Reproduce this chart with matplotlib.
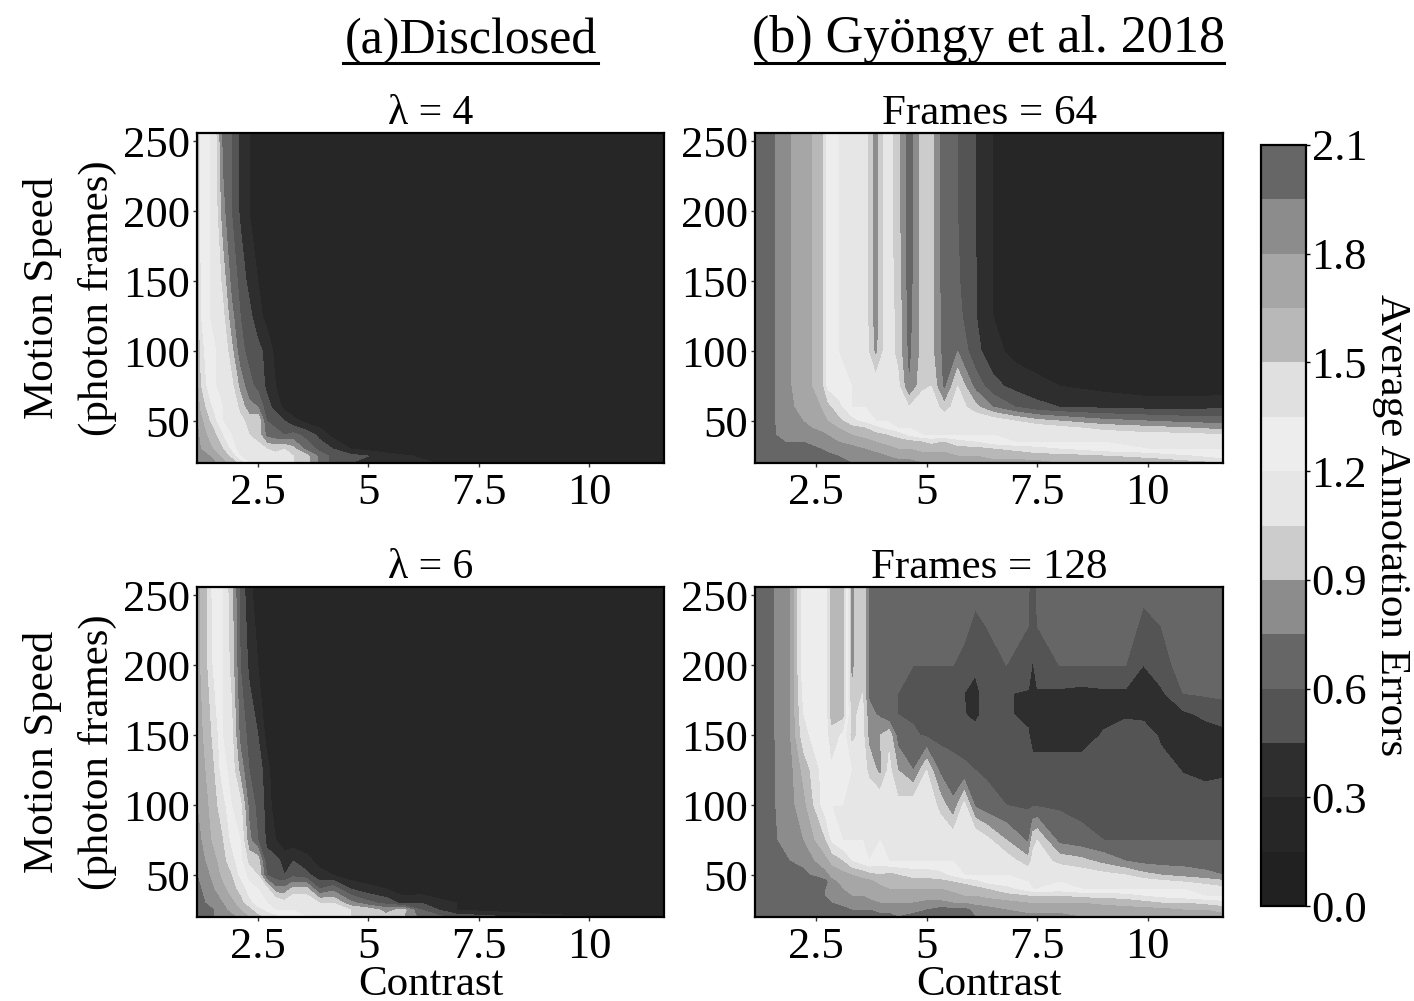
import numpy as np
import matplotlib
matplotlib.use("Agg")
import matplotlib.pyplot as plt
from matplotlib.colors import ListedColormap, BoundaryNorm
from matplotlib.lines import Line2D

plt.rcParams['font.family'] = ['Liberation Serif', 'DejaVu Serif']

W, H = 1414, 1001
levels = [0, .15, .3, .45, .6, .75, .9, 1.05, 1.2, 1.35, 1.5, 1.65, 1.8, 1.95, 2.1]
band_grays = [.13, .15, .18, .33, .40, .55, .80, .90, .93, .88, .72, .65, .55, .40]
xticks = [2.5, 5, 7.5, 10]
xticklabels = ['2.5', '5', '7.5', '10']
yticks = [50, 100, 150, 200, 250]
cticks = [0, .3, .6, .9, 1.2, 1.5, 1.8, 2.1]

speed_a = [20, 25, 30, 40, 50, 60, 75, 100, 125, 150, 200, 256]

contrast_a4 = [1.12,1.2,1.4,1.55,1.7,1.9,2.1,2.3,2.5,2.7,2.9,3.1,3.3,3.6,3.9,4.2,4.6,5,6,7.5,11.7]
errors_a4 = [
 [1.95,1.9,1.85,1.8,1.7,1.6,1.45,1.2,1.1,1.1,1.1,1.1,1.05,.95,.7,.55,.45,.45,.35,.2,.2],
 [1.9,1.85,1.8,1.7,1.6,1.45,1.2,1.15,1.15,1.1,1.1,1.15,1.05,.95,.7,.55,.5,.45,.3,.2,.2],
 [1.9,1.8,1.7,1.6,1.5,1.3,1.1,1.1,1.1,1.05,1.0,1.05,.95,.7,.55,.45,.3,.25,.2,.2,.2],
 [1.85,1.75,1.6,1.5,1.35,1.2,1.15,1.05,1.0,.7,.65,.6,.65,.55,.4,.25,.2,.2,.2,.2,.2],
 [1.8,1.7,1.5,1.35,1.2,1.2,1.1,1.0,1.05,.6,.55,.45,.35,.25,.2,.2,.2,.2,.2,.2,.2],
 [1.75,1.6,1.4,1.25,1.2,1.2,1.0,.8,.75,.5,.4,.25,.2,.2,.2,.2,.2,.2,.2,.2,.2],
 [1.7,1.5,1.25,1.2,1.2,1.1,.85,.65,.55,.42,.3,.2,.2,.2,.2,.2,.2,.2,.2,.2,.2],
 [1.65,1.4,1.25,1.2,1.2,.95,.65,.55,.5,.4,.25,.2,.2,.2,.2,.2,.2,.2,.2,.2,.2],
 [1.65,1.35,1.2,1.2,1.1,.8,.6,.5,.35,.25,.2,.2,.2,.2,.2,.2,.2,.2,.2,.2,.2],
 [1.65,1.3,1.2,1.2,1.0,.7,.55,.4,.3,.2,.2,.2,.2,.2,.2,.2,.2,.2,.2,.2,.2],
 [1.6,1.3,1.2,1.1,.8,.6,.42,.3,.2,.2,.2,.2,.2,.2,.2,.2,.2,.2,.2,.2,.2],
 [1.6,1.25,1.2,1.05,.7,.6,.4,.3,.2,.2,.2,.2,.2,.2,.2,.2,.2,.2,.2,.2,.2],
]

contrast_a6 = [1.12,1.3,1.5,1.7,1.9,2.1,2.3,2.5,2.7,2.9,3.1,3.3,3.6,3.9,4.2,4.6,5,5.4,5.8,6.2,7,11.7]
errors_a6 = [
 [2.05,2.0,1.95,1.9,1.85,1.75,1.65,1.55,1.45,1.4,1.3,1.3,1.2,1.2,1.15,1.05,1.0,.95,.9,.7,.55,.2],
 [2.05,2.0,1.95,1.85,1.75,1.65,1.55,1.4,1.3,1.2,1.2,1.2,1.2,1.15,1.1,1.05,1.0,.85,.95,.6,.3,.2],
 [2.0,1.95,1.85,1.8,1.7,1.55,1.4,1.25,1.2,1.2,1.1,1.2,1.2,1.05,1.05,.8,.65,.55,.4,.45,.3,.2],
 [2.0,1.9,1.8,1.7,1.55,1.45,1.25,1.2,1.1,.8,.8,.95,.95,.6,.7,.45,.35,.3,.2,.2,.2,.2],
 [1.95,1.85,1.75,1.6,1.5,1.3,1.15,1.05,.6,.5,.45,.55,.5,.35,.3,.2,.2,.2,.2,.2,.2,.2],
 [1.9,1.8,1.7,1.55,1.4,1.25,1.0,1.0,.5,.5,.4,.45,.35,.25,.2,.2,.2,.2,.2,.2,.2,.2],
 [1.85,1.75,1.6,1.5,1.3,1.2,.8,.6,.42,.3,.2,.2,.2,.2,.2,.2,.2,.2,.2,.2,.2,.2],
 [1.8,1.7,1.55,1.4,1.2,1.1,.7,.55,.4,.2,.2,.2,.2,.2,.2,.2,.2,.2,.2,.2,.2,.2],
 [1.75,1.65,1.5,1.25,1.15,.85,.6,.55,.35,.2,.2,.2,.2,.2,.2,.2,.2,.2,.2,.2,.2,.2],
 [1.75,1.6,1.45,1.2,1.1,.7,.55,.45,.25,.2,.2,.2,.2,.2,.2,.2,.2,.2,.2,.2,.2,.2],
 [1.7,1.55,1.3,1.2,1.0,.6,.42,.3,.2,.2,.2,.2,.2,.2,.2,.2,.2,.2,.2,.2,.2,.2],
 [1.7,1.55,1.25,1.2,.95,.55,.35,.2,.2,.2,.2,.2,.2,.2,.2,.2,.2,.2,.2,.2,.2,.2],
]

speed_b64 = [20, 25, 30, 35, 40, 45, 50, 60, 75, 100, 125, 150, 200, 256]
contrast_b64 = [1.12,1.5,1.8,2.2,2.6,2.75,3.0,3.3,3.6,3.85,4.1,4.35,4.6,4.9,5.1,5.4,5.7,6.1,6.5,7,7.5,8,9,10,11,11.7]
errors_b64 = [
 [2.05,2.05,2.08,2.08,2.05,2.05,2.0,1.95,1.95,1.9,1.9,1.85,1.85,1.8,1.8,1.8,1.75,1.75,1.7,1.7,1.7,1.65,1.65,1.6,1.55,1.5],
 [2.05,2.05,2.05,2.05,2.0,2.0,1.95,1.9,1.85,1.85,1.8,1.75,1.75,1.7,1.7,1.7,1.65,1.65,1.6,1.6,1.55,1.55,1.5,1.45,1.35,1.25],
 [2.05,2.0,2.0,2.0,1.95,1.9,1.85,1.85,1.8,1.75,1.7,1.65,1.65,1.6,1.6,1.6,1.55,1.55,1.5,1.45,1.4,1.35,1.25,1.2,1.2,1.2],
 [2.05,2.0,1.95,1.95,1.9,1.85,1.8,1.75,1.7,1.65,1.6,1.55,1.55,1.5,1.45,1.5,1.4,1.35,1.25,1.2,1.2,1.2,1.2,1.2,1.2,1.2],
 [2.0,1.97,1.9,1.9,1.85,1.8,1.7,1.65,1.6,1.55,1.5,1.45,1.3,1.2,1.2,1.2,1.2,1.2,1.2,1.2,1.2,1.2,1.15,1.1,1.1,1.05],
 [2.0,1.97,1.9,1.85,1.75,1.7,1.65,1.55,1.5,1.4,1.3,1.2,1.2,1.2,1.2,1.2,1.2,1.2,1.2,1.2,1.15,1.1,1.0,.95,.9,.85],
 [2.0,1.97,1.85,1.8,1.7,1.65,1.55,1.4,1.3,1.2,1.2,1.2,1.2,1.2,1.2,1.2,1.2,1.2,1.15,1.05,.95,.9,.8,.75,.7,.7],
 [2.0,1.97,1.85,1.75,1.65,1.55,1.4,1.2,1.2,1.2,1.2,1.2,1.05,1.2,1.2,.95,1.15,.95,.75,.6,.5,.45,.42,.4,.4,.42],
 [2.0,1.97,1.85,1.7,1.6,1.3,1.25,1.2,1.2,1.15,1.2,1.1,.75,1.0,1.05,.7,1.05,.7,.5,.4,.35,.3,.25,.2,.2,.2],
 [2.0,1.97,1.85,1.7,1.6,1.3,1.2,1.2,1.15,.85,1.15,1.0,.7,.95,.95,.68,.75,.5,.35,.25,.2,.2,.2,.2,.2,.2],
 [2.0,1.97,1.85,1.7,1.6,1.3,1.2,1.2,1.15,.8,1.15,1.0,.68,.95,.95,.66,.65,.46,.3,.2,.2,.2,.2,.2,.2,.2],
 [2.0,1.97,1.85,1.7,1.6,1.3,1.2,1.2,1.15,.8,1.15,.98,.66,.95,.95,.65,.62,.46,.3,.22,.2,.2,.2,.2,.2,.2],
 [2.0,1.97,1.85,1.7,1.6,1.3,1.2,1.2,1.15,.8,1.15,.95,.65,.95,.95,.65,.6,.45,.3,.25,.2,.2,.2,.2,.2,.2],
 [2.0,1.97,1.85,1.7,1.6,1.3,1.2,1.2,1.15,.8,1.15,.95,.65,.95,.95,.65,.6,.45,.3,.25,.2,.2,.2,.2,.2,.2],
]

speed_b128 = [20, 25, 30, 35, 40, 45, 50, 60, 75, 100, 125, 150, 165, 180, 200, 256]
contrast_b128 = [1.12,1.5,1.9,2.2,2.7,2.85,3.1,3.3,3.55,3.7,3.95,4.15,4.35,4.7,5,5.3,5.6,5.85,6.1,6.35,6.8,7.3,7.4,7.5,8,8.5,9,9.5,9.9,10.3,10.8,11.3,11.7]
errors_b128 = [
 [2.0,2.0,2.0,2.0,2.0,2.0,2.0,2.0,2.0,2.0,2.0,2.0,1.95,2.0,2.05,2.05,2.05,2.0,1.95,1.9,1.85,1.85,1.85,1.85,1.85,1.8,1.8,1.8,1.8,1.75,1.75,1.7,1.7],
 [2.0,2.0,2.0,2.0,2.0,2.0,2.0,1.95,1.95,1.95,1.9,1.9,1.9,1.9,1.95,2.0,2.0,2.0,1.9,1.85,1.8,1.75,1.75,1.75,1.75,1.75,1.75,1.7,1.7,1.7,1.65,1.65,1.6],
 [2.0,2.0,2.0,2.0,2.0,1.95,1.9,1.9,1.85,1.85,1.8,1.8,1.8,1.8,1.85,1.85,1.8,1.8,1.75,1.75,1.7,1.65,1.65,1.65,1.65,1.65,1.6,1.6,1.55,1.5,1.5,1.45,1.4],
 [2.0,2.0,2.0,2.0,1.95,1.9,1.85,1.8,1.8,1.75,1.75,1.75,1.7,1.7,1.7,1.7,1.7,1.65,1.65,1.6,1.55,1.5,1.5,1.5,1.5,1.45,1.45,1.4,1.35,1.3,1.25,1.2,1.2],
 [2.0,2.0,2.05,2.05,1.95,1.85,1.8,1.75,1.75,1.7,1.7,1.65,1.65,1.65,1.65,1.65,1.6,1.6,1.55,1.5,1.4,1.25,1.2,1.2,1.25,1.2,1.2,1.2,1.2,1.2,1.2,1.15,1.1],
 [2.0,2.0,2.0,2.08,2.0,1.85,1.75,1.7,1.7,1.7,1.6,1.6,1.6,1.55,1.55,1.55,1.5,1.45,1.4,1.3,1.25,1.2,1.2,1.2,1.2,1.2,1.2,1.2,1.15,1.1,1.05,1.0,.95],
 [2.05,2.0,2.0,2.0,1.85,1.75,1.7,1.65,1.6,1.55,1.5,1.55,1.5,1.45,1.45,1.4,1.3,1.2,1.2,1.2,1.2,1.2,1.2,1.2,1.2,1.15,1.1,1.05,.95,.9,.85,.8,.75],
 [2.0,1.97,1.95,1.9,1.7,1.6,1.5,1.35,1.25,1.2,1.25,1.2,1.2,1.2,1.2,1.2,1.2,1.2,1.2,1.2,1.15,.95,1.1,1.15,1.0,.95,.85,.75,.7,.68,.68,.66,.65],
 [2.0,1.97,1.9,1.8,1.5,1.3,1.2,1.2,1.2,1.2,1.2,1.2,1.2,1.2,1.2,1.2,1.15,1.2,1.2,1.1,.9,.72,1.0,1.05,.7,.65,.6,.6,.6,.6,.6,.6,.6],
 [1.97,1.97,1.85,1.7,1.25,1.2,1.2,1.2,1.2,1.2,1.2,1.2,1.1,1.15,1.2,1.0,.78,1.1,.72,.65,.6,.58,.58,.58,.58,.55,.55,.55,.55,.55,.55,.55,.55],
 [1.97,1.97,1.85,1.6,1.25,1.3,1.25,1.2,1.15,1.0,.85,1.1,.9,.75,1.05,.72,.65,.62,.6,.58,.55,.55,.5,.5,.5,.5,.52,.55,.55,.52,.44,.4,.42],
 [1.97,1.97,1.8,1.4,1.2,1.45,1.3,1.0,1.1,.85,.9,1.0,.68,.62,.58,.55,.55,.55,.52,.52,.5,.46,.4,.4,.4,.4,.46,.55,.55,.42,.38,.38,.38],
 [1.97,1.97,1.8,1.35,1.2,1.55,1.55,1.0,1.1,.8,.72,.62,.6,.58,.55,.52,.5,.46,.4,.52,.46,.43,.4,.4,.4,.4,.42,.42,.4,.42,.42,.48,.55],
 [1.97,1.97,1.8,1.3,1.2,1.55,1.6,.9,1.05,.72,.68,.62,.6,.58,.58,.55,.5,.45,.4,.52,.46,.43,.4,.42,.42,.4,.42,.42,.4,.42,.6,.62,.62],
 [1.97,1.97,1.8,1.25,1.2,1.55,1.6,.85,1.05,.72,.68,.65,.62,.6,.6,.6,.6,.58,.48,.55,.6,.58,.42,.58,.6,.6,.6,.6,.45,.55,.65,.65,.65],
 [1.97,1.97,1.8,1.25,1.2,1.55,1.6,.85,1.05,.72,.68,.66,.65,.65,.65,.65,.65,.65,.65,.65,.65,.62,.5,.62,.65,.65,.65,.65,.65,.65,.65,.65,.65],
]

cmap = ListedColormap([str(g) for g in band_grays])
norm = BoundaryNorm(levels, cmap.N)


def rect(x0, y0, x1, y1):
    return [x0 / W, 1 - y1 / H, (x1 - x0) / W, (y1 - y0) / H]


fig = plt.figure(figsize=(W / 100, H / 100), dpi=100, facecolor='white')

panels = [
    (rect(197, 133, 664, 463), contrast_a4, speed_a, errors_a4, 'λ = 4', True, False),
    (rect(755, 133, 1223, 463), contrast_b64, speed_b64, errors_b64, 'Frames = 64', False, False),
    (rect(197, 587, 664, 917), contrast_a6, speed_a, errors_a6, 'λ = 6', True, True),
    (rect(755, 587, 1223, 917), contrast_b128, speed_b128, errors_b128, 'Frames = 128', False, True),
]
TICK = 32
cs = None
for box, cx, sp, z, title, ylab, xlab in panels:
    ax = fig.add_axes(box)
    cs = ax.contourf(cx, sp, np.array(z), levels=levels, cmap=cmap, norm=norm)
    ax.set_xlim(1.12, 11.7)
    ax.set_ylim(20, 256)
    ax.set_xticks(xticks, xticklabels)
    ax.set_yticks(yticks)
    ax.tick_params(labelsize=TICK, length=3, width=1, color='#333333')
    ax.tick_params(axis='x', pad=4)
    ax.tick_params(axis='y', pad=2)
    ax.set_title(title, fontsize=31 if 'Frames' in title else 30, pad=4)
    for s in ax.spines.values():
        s.set_linewidth(1.6)
    if ylab:
        ax.set_ylabel('Motion Speed\n(photon frames)', fontsize=31, linespacing=1.55, labelpad=4)
    if xlab:
        ax.set_xlabel('Contrast', fontsize=31, labelpad=-1)

cax = fig.add_axes(rect(1261, 145, 1306, 906))
cb = fig.colorbar(cs, cax=cax, ticks=cticks, spacing='proportional')
cb.ax.minorticks_off()
cb.ax.set_yticklabels([f'{t:.1f}' for t in cticks])
cb.ax.tick_params(labelsize=TICK, length=3, width=1, pad=1)
cb.outline.set_linewidth(1.6)
cb.set_label('Average Annotation Errors', fontsize=31, rotation=270, labelpad=31)

fig.text(471 / W, 1 - 41 / H, '(a)Disclosed', fontsize=36, ha='center', va='center')
fig.text(989 / W, 1 - 39 / H, '(b) Gyöngy et al. 2018', fontsize=37.5, ha='center', va='center')
fig.add_artist(Line2D([343 / W, 598 / W], [1 - 63 / H] * 2, color='black', lw=2.2))
fig.add_artist(Line2D([755 / W, 1224 / W], [1 - 63 / H] * 2, color='black', lw=2.2))

fig.savefig('out.png', dpi=100, facecolor='white')
